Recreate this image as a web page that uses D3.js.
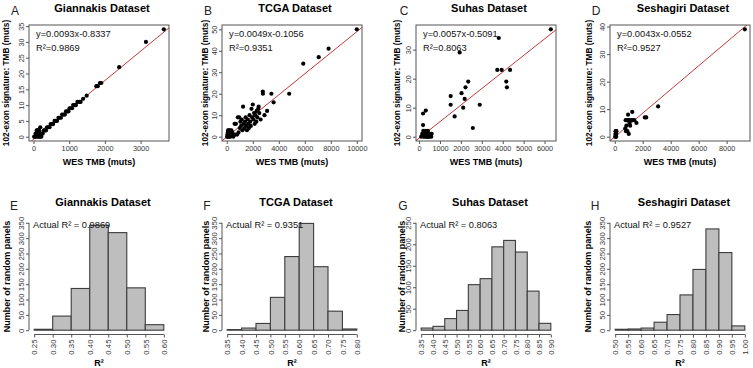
<!DOCTYPE html>
<html>
<head>
<meta charset="utf-8">
<script src="https://cdn.jsdelivr.net/npm/d3@7"></script>
<style>
  body { margin: 0; background: #fff; }
  svg { font-family: "Liberation Sans", Arial, sans-serif; }
</style>
</head>
<body>
<div id="chart-area"></div>
<script>

// DATA
var datasets = ["Giannakis Dataset", "TCGA Dataset", "Suhas Dataset", "Seshagiri Dataset"];
var scatterLetters = ["A", "B", "C", "D"];
var histLetters = ["E", "F", "G", "H"];

var slopes = [0.0093, 0.0049, 0.0057, 0.0043];
var intercepts = [-0.8337, -0.1056, -0.5091, -0.0552];
var r2Labels = ["0.9869", "0.9351", "0.8063", "0.9527"];

// WES TMB vs 102-exon TMB (muts)
var giannakisWES = [20, 40, 60, 70, 90, 100, 110, 120, 130, 140, 150, 160, 170, 180, 190, 200, 220, 240, 260, 290,
  320, 350, 380, 420, 450, 480, 520, 550, 590, 620, 660, 700, 730, 770, 800, 840, 880, 910, 950, 980,
  1010, 1050, 1080, 1110, 1150, 1190, 1230, 1280, 1320, 1390, 1490, 1760, 1800, 1860, 1900, 2400, 3150, 3650];
var giannakisPanel = [0, 0, 1, 0, 2, 1, 2, 0, 2, 1, 0, 2, 1, 0, 3, 1, 0, 1, 1, 2,
  2, 2, 3, 3, 3, 4, 4, 4, 5, 5, 5, 6, 6, 6, 7, 7, 7, 8, 8, 8,
  9, 9, 9, 10, 10, 10, 11, 11, 11, 12, 13, 16, 16, 17, 17, 22, 30, 34];

var tcgaWES = [30, 50, 60, 80, 90, 100, 110, 120, 130, 150, 160, 180, 200, 220, 240, 260, 280, 300, 320, 350, 380, 420, 460, 500,
  600, 650, 700, 800, 850, 900, 950, 1000, 1050, 1100, 1150, 1200, 1250, 1300, 1350, 1400, 1450, 1500, 1550, 1600, 1650,
  1700, 1750, 1800, 1850, 1900, 1950, 2000, 2050, 2100, 2150, 2200, 2270, 2300, 2350, 2420, 2450, 2500, 2600,
  2770, 2780, 2900, 3100, 3430, 3600, 4800, 5880, 7070, 7830, 10000];
var tcgaPanel = [0, 1, 0, 2, 1, 3, 0, 1, 2, 3, 1, 0, 2, 1, 3, 2, 0, 1, 2, 3, 1, 2, 1, 0,
  6, 1, 6, 1, 9, 2, 9, 4, 7, 5, 8, 3, 14, 6, 4, 7, 9, 5, 3, 8, 6,
  4, 10, 7, 5, 13, 9, 15, 8, 11, 6, 10, 7, 12, 9, 13, 14, 11, 8,
  21, 20, 10, 12, 20, 16, 20, 34, 37, 41, 50];

var suhasWES = [100, 150, 190, 190, 200, 220, 250, 280, 300, 320, 330, 350, 380, 400, 420, 450, 480, 500, 550, 580, 600,
  1510, 1510, 1700, 1940, 2030, 2110, 2180, 2220, 2350, 2570, 2900, 3740, 3810, 3950, 4170, 4200, 4350, 6300];
var suhasPanel = [0, 1, 8, 4, 2, 0, 1, 0, 2, 9, 1, 0, 1, 0, 2, 0, 1, 0, 1, 0, 1,
  14, 11, 7, 29, 15, 10, 13, 17, 19, 3, 11, 23, 34, 23, 19, 17, 23, 37];

var seshagiriWES = [30, 50, 60, 70, 80, 90, 100, 110, 120, 750, 800, 830, 900, 950, 1000, 1050, 1100,
  780, 880, 980, 1080, 1180, 1300, 1400, 1250, 1550, 2150, 2250, 3100, 9300];
var seshagiriPanel = [0, 1, 2, 0, 1, 2, 0, 1, 2, 3, 2, 4, 2, 8, 1, 5, 4,
  6, 6, 6, 6, 6, 6, 6, 9, 5, 7, 7, 11, 39];

var scatterX = [giannakisWES, tcgaWES, suhasWES, seshagiriWES];
var scatterY = [giannakisPanel, tcgaPanel, suhasPanel, seshagiriPanel];

var scatterXTicks = [[0, 1000, 2000, 3000], [0, 2000, 4000, 6000, 8000, 10000],
  [0, 1000, 2000, 3000, 4000, 5000, 6000], [0, 2000, 4000, 6000, 8000]];
var scatterYTicks = [[0, 5, 10, 15, 20, 25, 30, 35], [0, 10, 20, 30, 40, 50],
  [0, 10, 20, 30], [0, 10, 20, 30, 40]];

// Random panel R^2 histograms (bin width 0.05)
var histStart = [0.25, 0.35, 0.35, 0.50];
var giannakisCounts = [3, 46, 136, 342, 318, 138, 18];
var tcgaCounts = [2, 7, 22, 107, 240, 348, 207, 62, 4];
var suhasCounts = [5, 9, 27, 46, 106, 120, 194, 209, 182, 91, 16];
var seshagiriCounts = [3, 4, 7, 26, 51, 115, 198, 330, 253, 14];
var histCounts = [giannakisCounts, tcgaCounts, suhasCounts, seshagiriCounts];
var histYMax = [350, 350, 250, 350];

// LAYOUT
var width = 753,
    height = 368;
var lefts = [29, 222, 416, 610],
    boxW = 140;
var sTop = 25, sBottom = 141;
var hTop = 218.5, hBottom = 334.5;
var letterX = [15, 208, 404, 596];
var sYLabelOff = [-23, -17, -19, -21];
var hYLabelOff = [-22, -16, -14, -22];

var svg = d3.select("#chart-area").append("svg")
    .attr("width", width)
    .attr("height", height);

function pad(ext) {
  var r = ext[1] - ext[0];
  return [ext[0] - 0.04 * r, ext[1] + 0.04 * r];
}

function styleAxis(g, size) {
  g.select(".domain").remove();
  g.selectAll("line").attr("stroke", "#555");
  g.selectAll("text").attr("fill", "#333").style("font-size", size);
}

// SCATTER PANELS
scatterX.forEach(function(xs, i) {
  var ys = scatterY[i];
  var pts = xs.map(function(d, k) { return {x: d, y: ys[k]}; });
  var L = lefts[i], R = lefts[i] + boxW;

  var x = d3.scaleLinear().domain(pad(d3.extent(xs))).range([L, R]);
  var y = d3.scaleLinear().domain(pad([0, d3.max(ys)])).range([sBottom, sTop]);

  var g = svg.append("g");

  g.append("clipPath").attr("id", "clip" + i)
    .append("rect").attr("x", L).attr("y", sTop).attr("width", boxW).attr("height", sBottom - sTop);

  // fit line
  var xd = x.domain();
  g.append("line")
    .attr("clip-path", "url(#clip" + i + ")")
    .attr("x1", x(xd[0])).attr("y1", y(slopes[i] * xd[0] + intercepts[i]))
    .attr("x2", x(xd[1])).attr("y2", y(slopes[i] * xd[1] + intercepts[i]))
    .attr("stroke", "#c23a3a")
    .attr("stroke-width", 1);

  g.selectAll("circle")
    .data(pts)
    .enter()
    .append("circle")
    .attr("cx", d => x(d.x))
    .attr("cy", d => y(d.y))
    .attr("r", 2.1)
    .attr("fill", "#000");

  g.append("rect")
    .attr("x", L).attr("y", sTop).attr("width", boxW).attr("height", sBottom - sTop)
    .attr("fill", "none").attr("stroke", "#555").attr("stroke-width", 1);

  var xa = g.append("g").attr("transform", "translate(0," + sBottom + ")")
    .call(d3.axisBottom(x).tickValues(scatterXTicks[i]).tickSize(3).tickPadding(2).tickFormat(d3.format("d")));
  styleAxis(xa, "7.3px");

  var ya = g.append("g").attr("transform", "translate(" + L + ",0)")
    .call(d3.axisLeft(y).tickValues(scatterYTicks[i]).tickSize(3).tickFormat(d3.format("d")));
  styleAxis(ya, "7.3px");
  ya.selectAll("text")
    .attr("x", 0).attr("dy", 0)
    .attr("text-anchor", "middle")
    .attr("transform", "translate(-5,0) rotate(-90)");

  g.append("text")
    .attr("x", (L + R) / 2 + 3).attr("y", 11.5)
    .attr("text-anchor", "middle")
    .style("font-size", "11px").style("font-weight", "bold")
    .text(datasets[i]);

  g.append("text")
    .attr("x", letterX[i]).attr("y", 15)
    .attr("text-anchor", "middle")
    .style("font-size", "12px").attr("fill", "#222")
    .text(scatterLetters[i]);

  g.append("text")
    .attr("x", (L + R) / 2).attr("y", 165)
    .attr("text-anchor", "middle")
    .style("font-size", "9px").style("font-weight", "bold")
    .text("WES TMB (muts)");

  g.append("text")
    .attr("transform", "translate(" + (L + sYLabelOff[i]) + "," + ((sTop + sBottom) / 2) + ") rotate(-90)")
    .attr("text-anchor", "middle")
    .attr("dy", "0.35em")
    .style("font-size", "8.3px").style("font-weight", "bold")
    .text("102-exon signature: TMB (muts)");

  g.append("text")
    .attr("x", L + 7).attr("y", 36.5)
    .style("font-size", "9.3px").attr("fill", "#111")
    .text("y=" + slopes[i] + "x" + intercepts[i]);

  g.append("text")
    .attr("x", L + 7).attr("y", 51)
    .style("font-size", "9.3px").attr("fill", "#111")
    .text("R\u00b2=" + r2Labels[i]);
});

// HISTOGRAM PANELS
histCounts.forEach(function(counts, i) {
  var start = histStart[i];
  var bins = counts.map(function(c, k) {
    return {x0: start + k * 0.05, x1: start + (k + 1) * 0.05, n: c};
  });
  var breaks = d3.range(counts.length + 1).map(k => +(start + k * 0.05).toFixed(2));
  var L = lefts[i], R = lefts[i] + boxW;

  var x = d3.scaleLinear().domain(pad([breaks[0], breaks[breaks.length - 1]])).range([L, R]);
  var y = d3.scaleLinear().domain(pad([0, histYMax[i]])).range([hBottom, hTop]);

  var g = svg.append("g");

  g.selectAll("rect")
    .data(bins)
    .enter()
    .append("rect")
    .attr("x", d => x(d.x0))
    .attr("y", d => y(d.n))
    .attr("width", d => x(d.x1) - x(d.x0))
    .attr("height", d => y(0) - y(d.n))
    .attr("fill", "#bebebe")
    .attr("stroke", "#3c3c3c")
    .attr("stroke-width", 1.1);

  var xa = g.append("g").attr("transform", "translate(0," + hBottom + ")")
    .call(d3.axisBottom(x).tickValues(breaks).tickSize(3).tickFormat(d3.format(".2f")));
  styleAxis(xa, "7.8px");
  xa.append("line")
    .attr("x1", x(breaks[0])).attr("x2", x(breaks[breaks.length - 1]))
    .attr("stroke", "#555");
  xa.selectAll("text")
    .attr("y", 0).attr("dy", "0.35em")
    .attr("text-anchor", "end")
    .attr("transform", "translate(0,5) rotate(-90)");

  var ya = g.append("g").attr("transform", "translate(" + L + ",0)")
    .call(d3.axisLeft(y).tickValues(d3.range(0, histYMax[i] + 1, 50)).tickSize(3).tickFormat(d3.format("d")));
  styleAxis(ya, "7.8px");
  ya.append("line")
    .attr("y1", y(0)).attr("y2", y(histYMax[i]))
    .attr("stroke", "#555");
  ya.selectAll("text")
    .attr("x", 0).attr("dy", 0)
    .attr("text-anchor", "middle")
    .attr("transform", "translate(-5,0) rotate(-90)");

  g.append("text")
    .attr("x", (L + R) / 2 + 4).attr("y", 205.5)
    .attr("text-anchor", "middle")
    .style("font-size", "11px").style("font-weight", "bold")
    .text(datasets[i]);

  g.append("text")
    .attr("x", letterX[i] - 1).attr("y", 209.5)
    .attr("text-anchor", "middle")
    .style("font-size", "12px").attr("fill", "#222")
    .text(histLetters[i]);

  g.append("text")
    .attr("x", (L + R) / 2).attr("y", 366)
    .attr("text-anchor", "middle")
    .style("font-size", "9px").style("font-weight", "bold")
    .text("R\u00b2");

  g.append("text")
    .attr("transform", "translate(" + (L + hYLabelOff[i]) + "," + ((hTop + hBottom) / 2) + ") rotate(-90)")
    .attr("text-anchor", "middle")
    .attr("dy", "0.35em")
    .style("font-size", "9px").style("font-weight", "bold")
    .text("Number of random panels");

  g.append("text")
    .attr("x", L + 4).attr("y", 227.5)
    .style("font-size", "9.3px").attr("fill", "#111")
    .text("Actual R\u00b2 = " + r2Labels[i]);
});

</script>
</body>
</html>
